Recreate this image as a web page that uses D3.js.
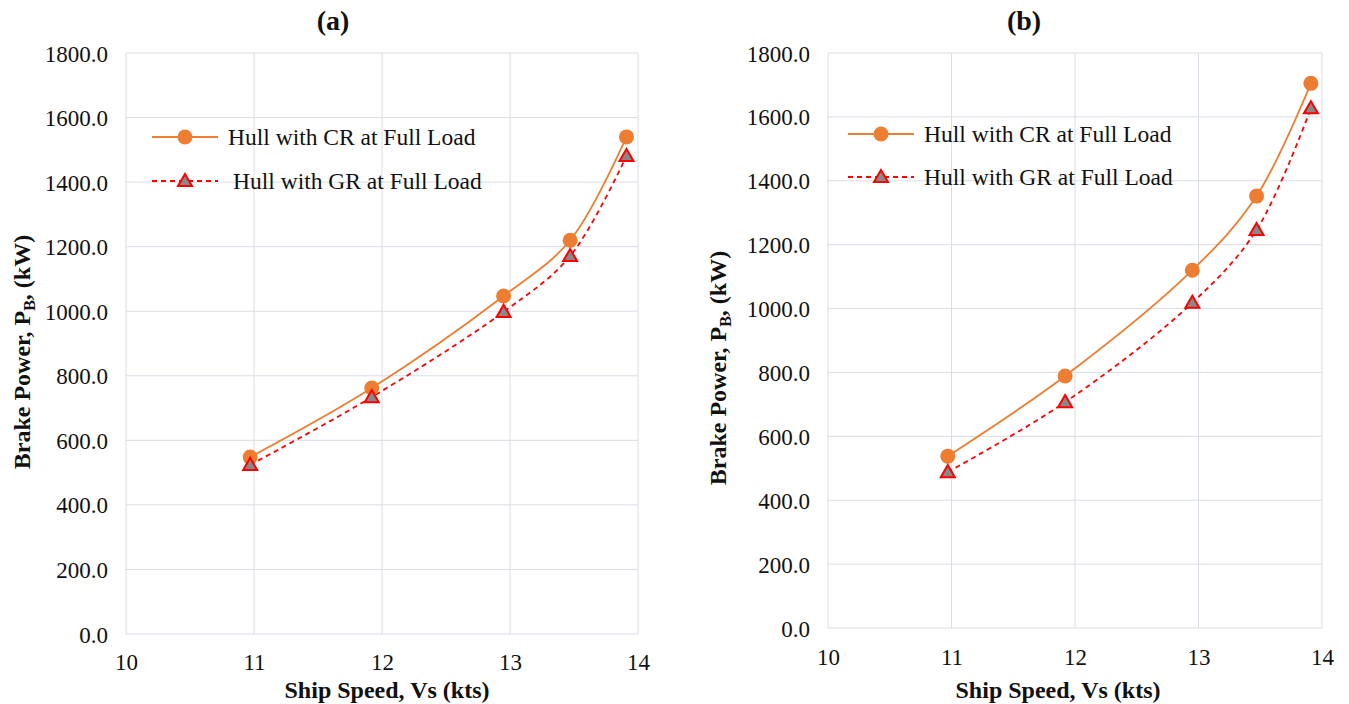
<!DOCTYPE html>
<html><head><meta charset="utf-8">
<script src="https://cdn.jsdelivr.net/npm/d3@7"></script>
<style>body{margin:0;background:#fff}svg{display:block}text{font-family:"Liberation Serif","Times New Roman",serif}</style>
</head><body><svg id="c" width="1349" height="704"></svg>
<script>
const speeds = [10.97, 11.92, 12.95, 13.47, 13.91];
const crA = [548, 762, 1047, 1220, 1540];
const grA = [524, 734, 998, 1171, 1481];
const crB = [538, 789, 1120, 1352, 1705];
const grB = [488, 707, 1018, 1246, 1627];
const xTicks = [10, 11, 12, 13, 14];
const yTicks = [0, 200, 400, 600, 800, 1000, 1200, 1400, 1600, 1800];
const seriesNames = ["Hull with CR at Full Load", "Hull with GR at Full Load"];
const titles = ["(a)", "(b)"];

const svg = d3.select("#c");
const panels = [
  {title: titles[0], cr: crA, gr: grA, x0: 126, x1: 638, y0: 634, y1: 53, tx: 333, ytX: 22, ytY: 352, xtX: 387, leg: {lx: 152, tx: 228, tx2: 233, y1: 137, y2: 181}, xLabY: 662},
  {title: titles[1], cr: crB, gr: grB, x0: 828, x1: 1322, y0: 628, y1: 53, tx: 1024, ytX: 718, ytY: 368, xtX: 1058, leg: {lx: 848, tx: 924, tx2: 924, y1: 134, y2: 177}, xLabY: 657}
];
const orange = "#ED7D31", red = "#FF0000", grid = "#D9DDE6";
const tri = d3.symbol().type(d3.symbolTriangle).size(85);

panels.forEach(p => {
  const x = d3.scaleLinear().domain([10, 14]).range([p.x0, p.x1]);
  const y = d3.scaleLinear().domain([0, 1800]).range([p.y0, p.y1]);
  const g = svg.append("g");
  g.selectAll(".hg").data(yTicks).join("line")
    .attr("x1", p.x0).attr("x2", p.x1).attr("y1", d => y(d)).attr("y2", d => y(d))
    .attr("stroke", grid).attr("stroke-width", 1);
  g.selectAll(".vg").data(xTicks).join("line")
    .attr("x1", d => x(d)).attr("x2", d => x(d)).attr("y1", p.y0).attr("y2", p.y1)
    .attr("stroke", grid).attr("stroke-width", 1);
  const ya = g.append("g").attr("transform", `translate(${p.x0 - 18},0)`)
    .call(d3.axisLeft(y).tickValues(yTicks).tickFormat(d3.format(".1f")).tickSize(0).tickPadding(0));
  ya.select(".domain").remove();
  ya.selectAll("text").attr("font-size", 23).attr("fill", "#111").attr("dy", "0.35em");
  const xa = g.append("g").attr("transform", `translate(0,${p.xLabY})`)
    .call(d3.axisBottom(x).tickValues(xTicks).tickFormat(d3.format("d")).tickSize(0).tickPadding(0));
  xa.select(".domain").remove();
  xa.selectAll("text").attr("font-size", 23).attr("fill", "#111").attr("dy", "0.35em");
  g.append("text").attr("x", p.tx).attr("y", 30).attr("text-anchor", "middle")
    .attr("font-size", 28).attr("font-weight", "bold").attr("fill", "#111").text(p.title);
  g.append("text").attr("x", p.xtX).attr("y", 698).attr("text-anchor", "middle")
    .attr("font-size", 24).attr("font-weight", "bold").attr("fill", "#111").text("Ship Speed, Vs (kts)");
  const yt = g.append("text").attr("transform", `translate(${p.ytX + 8},${p.ytY}) rotate(-90)`)
    .attr("text-anchor", "middle").attr("font-size", 24).attr("font-weight", "bold").attr("fill", "#111");
  yt.append("tspan").text("Brake Power, P");
  yt.append("tspan").attr("font-size", 16).attr("dy", 5).text("B");
  yt.append("tspan").attr("dy", -5).text(", (kW)");
  const line = d3.line().x(d => x(d[0])).y(d => y(d[1])).curve(d3.curveCatmullRom.alpha(0.5));
  const crData = speeds.map((s, i) => [s, p.cr[i]]);
  const grData = speeds.map((s, i) => [s, p.gr[i]]);
  g.append("path").attr("d", line(crData)).attr("fill", "none").attr("stroke", orange).attr("stroke-width", 1.8);
  g.append("path").attr("d", line(grData)).attr("fill", "none").attr("stroke", red).attr("stroke-width", 1.8).attr("stroke-dasharray", "5,4");
  g.selectAll(".cm").data(crData).join("circle").attr("cx", d => x(d[0])).attr("cy", d => y(d[1])).attr("r", 7.5).attr("fill", orange);
  g.selectAll(".tm").data(grData).join("path").attr("d", tri)
    .attr("transform", d => `translate(${x(d[0])},${y(d[1]) + 1})`)
    .attr("fill", "#888").attr("stroke", red).attr("stroke-width", 2);
  const L = p.leg;
  g.append("line").attr("x1", L.lx).attr("x2", L.lx + 66).attr("y1", L.y1).attr("y2", L.y1).attr("stroke", orange).attr("stroke-width", 1.8);
  g.append("circle").attr("cx", L.lx + 33).attr("cy", L.y1).attr("r", 7.5).attr("fill", orange);
  g.append("text").attr("x", L.tx).attr("y", L.y1).attr("dy", "0.35em").attr("font-size", 23.5).attr("fill", "#111").text(seriesNames[0]);
  g.append("line").attr("x1", L.lx).attr("x2", L.lx + 66).attr("y1", L.y2).attr("y2", L.y2).attr("stroke", red).attr("stroke-width", 1.8).attr("stroke-dasharray", "5,4");
  g.append("path").attr("d", tri).attr("transform", `translate(${L.lx + 33},${L.y2 + 1})`).attr("fill", "#888").attr("stroke", red).attr("stroke-width", 2);
  g.append("text").attr("x", L.tx2).attr("y", L.y2).attr("dy", "0.35em").attr("font-size", 23.5).attr("fill", "#111").text(seriesNames[1]);
});
</script></body></html>
